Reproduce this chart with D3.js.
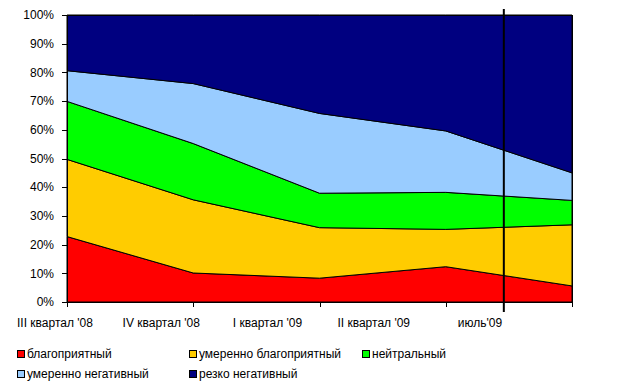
<!DOCTYPE html>
<html>
<head>
<meta charset="utf-8">
<script src="https://cdn.jsdelivr.net/npm/d3@7"></script>
<style>
  body { margin: 0; background: #fff; }
  text { font-family: Arial, "Liberation Sans", sans-serif; font-size: 12px; fill: #000; }
</style>
</head>
<body>
<div id="chart"></div>
<script>
// categories and values (% of respondents)
const categories = ["III квартал '08", "IV квартал '08", "I квартал '09", "II квартал '09", "июль'09"];
const seriesNames = ["благоприятный", "умеренно благоприятный", "нейтральный", "умеренно негативный", "резко негативный"];
const favourable = [22.8, 10.1, 8.3, 12.3, 5.6];
const moderatelyFavourable = [26.9, 25.5, 17.6, 13.0, 21.3];
const neutral = [20.2, 19.6, 12.0, 12.9, 8.5];
const moderatelyNegative = [10.7, 20.9, 27.8, 21.4, 9.6];
const sharplyNegative = [19.4, 23.9, 34.3, 40.4, 55.0];
const yTicks = [0, 10, 20, 30, 40, 50, 60, 70, 80, 90, 100];
const colors = ["#ff0000", "#ffcc00", "#00ff00", "#99ccff", "#000080"];

const seriesValues = [favourable, moderatelyFavourable, neutral, moderatelyNegative, sharplyNegative];
const rows = categories.map((c, i) => {
    const r = { cat: c };
    seriesNames.forEach((s, j) => r[s] = seriesValues[j][i]);
    return r;
});

const width = 623, height = 388;
const plot = { left: 67, right: 572, top: 15, bottom: 302 };

const svg = d3.select("#chart").append("svg")
    .attr("width", width)
    .attr("height", height);

const x = d3.scalePoint().domain(categories).range([plot.left, plot.right]);
// Excel shifted the category labels; they sit on their own evenly spaced positions
const xLabel = d3.scalePoint().domain(categories).range([55, 480]);
const y = d3.scaleLinear().domain([0, 100]).range([plot.bottom, plot.top]);

const stack = d3.stack().keys(seriesNames);
const layers = stack(rows);

const area = d3.area()
    .x(d => x(d.data.cat))
    .y0(d => y(d[0]))
    .y1(d => y(d[1]));

svg.append("g").selectAll("path")
    .data(layers)
    .enter()
    .append("path")
    .attr("d", area)
    .attr("fill", (d, i) => colors[i])
    .attr("stroke", "#000")
    .attr("stroke-width", 1);

// plot frame
svg.append("rect")
    .attr("x", plot.left + 0.5)
    .attr("y", plot.top + 0.5)
    .attr("width", plot.right - plot.left)
    .attr("height", plot.bottom - plot.top)
    .attr("fill", "none")
    .attr("stroke", "#000");

// y axis
const yAxis = svg.append("g");
yAxis.selectAll("line")
    .data(yTicks)
    .enter()
    .append("line")
    .attr("x1", plot.left - 5)
    .attr("x2", plot.left)
    .attr("y1", d => Math.round(y(d)) + 0.5)
    .attr("y2", d => Math.round(y(d)) + 0.5)
    .attr("stroke", "#000");
yAxis.selectAll("text")
    .data(yTicks)
    .enter()
    .append("text")
    .attr("x", plot.left - 13)
    .attr("y", d => y(d))
    .attr("dy", "0.35em")
    .attr("text-anchor", "end")
    .text(d => d + "%");

// x axis
const xAxis = svg.append("g");
xAxis.selectAll("line")
    .data(categories)
    .enter()
    .append("line")
    .attr("x1", d => Math.round(x(d)) + 0.5)
    .attr("x2", d => Math.round(x(d)) + 0.5)
    .attr("y1", plot.bottom)
    .attr("y2", plot.bottom + 5)
    .attr("stroke", "#000");
xAxis.selectAll("text")
    .data(categories)
    .enter()
    .append("text")
    .attr("x", d => xLabel(d))
    .attr("y", 327)
    .attr("text-anchor", "middle")
    .text(d => d);

// separator line between II quarter and July
const sepX = x(categories[3]) + (x(categories[4]) - x(categories[3])) * 0.46;
svg.append("line")
    .attr("x1", sepX)
    .attr("x2", sepX)
    .attr("y1", 9)
    .attr("y2", 312)
    .attr("stroke", "#000")
    .attr("stroke-width", 2);

// legend
const legendPos = [[17, 354], [189, 354], [362, 354], [17, 374], [189, 374]];
const legend = svg.append("g").selectAll("g")
    .data(seriesNames)
    .enter()
    .append("g")
    .attr("transform", (d, i) => `translate(${legendPos[i][0]},${legendPos[i][1]})`);
legend.append("rect")
    .attr("x", 0.5)
    .attr("y", -3.5)
    .attr("width", 7)
    .attr("height", 7)
    .attr("fill", (d, i) => colors[i])
    .attr("stroke", "#000");
legend.append("text")
    .attr("x", 10)
    .attr("y", 0)
    .attr("dy", "0.35em")
    .text(d => d);
</script>
</body>
</html>
